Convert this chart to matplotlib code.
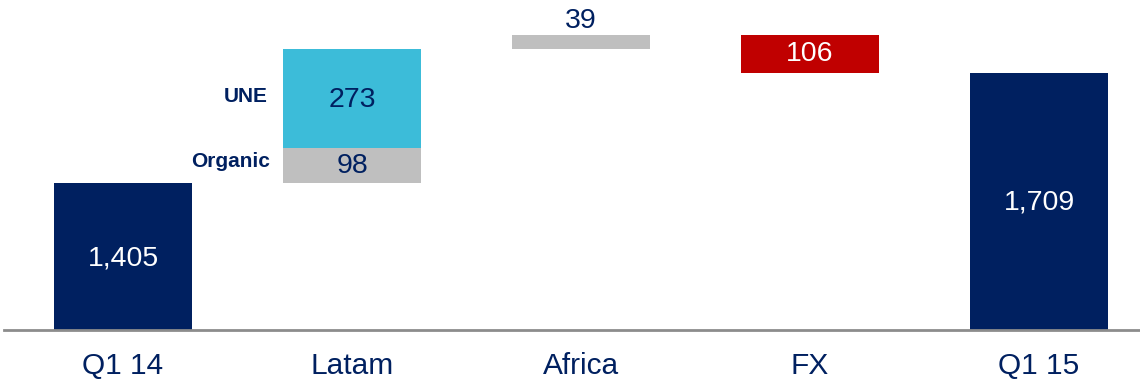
import matplotlib.pyplot as plt
import numpy as np

plt.rcParams['font.family'] = ['Liberation Sans', 'DejaVu Sans']

categories = ["Q1 14", "Latam", "Africa", "FX", "Q1 15"]
start_total = 1405
latam_organic = 98
latam_une = 273
africa = 39
fx = -106
end_total = 1709

navy = "#002060"
cyan = "#3cbcd9"
grey = "#bfbfbf"
red = "#c00000"
base = 998

fig = plt.figure(figsize=(11.4, 3.85), dpi=100)
ax = fig.add_axes([0, 55 / 385, 1, 330 / 385])

x = np.arange(len(categories))
w = 0.6

# running totals for the floating bars
lvl1 = start_total + latam_organic
lvl2 = lvl1 + latam_une
lvl3 = lvl2 + africa
lvl4 = lvl3 + fx

ax.bar(x[0], start_total - base, w, bottom=base, color=navy)
ax.bar(x[1], latam_organic, w, bottom=start_total, color=grey)
ax.bar(x[1], latam_une, w, bottom=lvl1, color=cyan)
ax.bar(x[2], africa, w, bottom=lvl2, color=grey)
ax.bar(x[3], -fx, w, bottom=lvl4, color=red)
ax.bar(x[4], end_total - base, w, bottom=base, color=navy)

fs = 20.5
ax.text(x[0], 1197, f"{start_total:,}", ha="center", va="center", color="white", fontsize=fs)
ax.text(x[1], start_total + latam_organic / 2 - 2, f"{latam_organic}", ha="center", va="center", color=navy, fontsize=fs)
ax.text(x[1], lvl1 + latam_une / 2 - 4, f"{latam_une}", ha="center", va="center", color=navy, fontsize=fs)
ax.text(x[2], lvl3 + 2, f"{africa}", ha="center", va="bottom", color=navy, fontsize=fs)
ax.text(x[3], lvl4 - fx / 2, f"{-fx}", ha="center", va="center", color="white", fontsize=fs)
ax.text(x[4], 1350, f"{end_total:,}", ha="center", va="center", color="white", fontsize=fs)

ax.text(x[1] - w / 2 - 0.07, lvl1 + latam_une / 2 + 4, "UNE", ha="right", va="center",
        color=navy, fontsize=15, fontweight="bold")
ax.text(x[1] - w / 2 - 0.06, start_total + latam_organic / 2 + 12, "Organic", ha="right", va="center",
        color=navy, fontsize=15, fontweight="bold")

ax.set_xlim(-123 / 229, (1140 - 123) / 229)
ax.set_ylim(base, base + 330 / 0.361)
ax.axhline(base, xmin=4 / 1140, xmax=1, color="#8c8c8c", lw=2, clip_on=False)

for s in ax.spines.values():
    s.set_visible(False)
ax.set_yticks([])
ax.set_xticks(x)
ax.set_xticklabels(categories, fontsize=21.5, color=navy)
ax.tick_params(axis="x", length=0, pad=16)

fig.savefig("out.png", dpi=100)
